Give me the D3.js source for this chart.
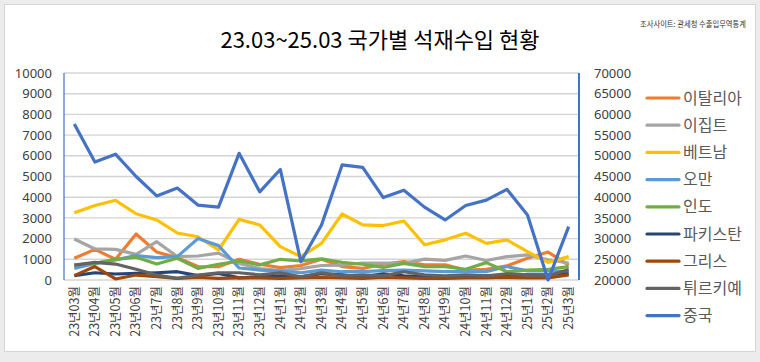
<!DOCTYPE html>
<html>
<head>
<meta charset="utf-8">
<script src="https://cdn.jsdelivr.net/npm/d3@7"></script>
<style>
  body { margin: 0; background: #fff; }
  text { font-family: "Noto Sans CJK KR", "Noto Sans", sans-serif; }
</style>
</head>
<body>
<div id="container"></div>
<script>
var categories = ["23년03월", "23년04월", "23년05월", "23년06월", "23년7월", "23년8월", "23년9월",
    "23년10월", "23년11월", "23년12월", "24년1월", "24년2월", "24년3월", "24년4월", "24년5월",
    "24년6월", "24년7월", "24년8월", "24년9월", "24년10월", "24년11월", "24년12월",
    "25년1월", "25년2월", "25년3월"];

var leftTicks = [0, 1000, 2000, 3000, 4000, 5000, 6000, 7000, 8000, 9000, 10000];
var rightTicks = [20000, 25000, 30000, 35000, 40000, 45000, 50000, 55000, 60000, 65000, 70000];

var italy    = [1050, 1480, 1000, 2220, 1350, 1080, 650, 640, 1000, 760, 600, 700, 1000, 650, 560, 760, 890, 730, 730, 480, 520, 680, 1050, 1350, 720];
var egypt    = [1980, 1500, 1480, 1240, 1850, 1130, 1160, 1300, 800, 550, 450, 550, 700, 720, 820, 820, 800, 1010, 950, 1160, 940, 1130, 1210, 980, 820];
var vietnam  = [3250, 3600, 3850, 3200, 2900, 2270, 2090, 1450, 2930, 2660, 1610, 1130, 1770, 3190, 2660, 2630, 2850, 1700, 1940, 2260, 1770, 1940, 1370, 850, 1130];
var oman     = [560, 800, 970, 1180, 1080, 1130, 2000, 1660, 580, 480, 430, 350, 480, 400, 400, 450, 480, 440, 400, 400, 400, 650, 440, 440, 400];
var india    = [720, 800, 1000, 1100, 770, 1050, 560, 760, 920, 730, 1000, 920, 1020, 850, 760, 610, 800, 650, 650, 520, 840, 400, 480, 520, 650];
var pakistan = [210, 350, 290, 320, 350, 400, 210, 320, 100, 150, 200, 150, 300, 250, 150, 300, 200, 150, 150, 150, 200, 200, 250, 250, 300];
var greece   = [210, 650, 50, 240, 160, 80, 130, 80, 100, 100, 80, 100, 120, 100, 80, 120, 100, 80, 80, 100, 100, 120, 100, 100, 250];
var turkey   = [720, 850, 770, 520, 240, 80, 240, 350, 350, 250, 350, 150, 350, 200, 250, 200, 400, 250, 200, 250, 200, 300, 250, 200, 500];
// China is plotted on the right-hand axis
var china    = [57700, 48500, 50400, 45000, 40300, 42200, 38100, 37600, 50600, 41300, 46700, 24400, 33300, 47800, 47200, 39900, 41700, 37600, 34500, 38000, 39300, 41900, 35700, 20000, 32900];

var series = [
    { name: "이탈리아", values: italy, color: "#ED7D31", axis: "left" },
    { name: "이집트", values: egypt, color: "#A5A5A5", axis: "left" },
    { name: "베트남", values: vietnam, color: "#FFC000", axis: "left" },
    { name: "오만", values: oman, color: "#5B9BD5", axis: "left" },
    { name: "인도", values: india, color: "#70AD47", axis: "left" },
    { name: "파키스탄", values: pakistan, color: "#264478", axis: "left" },
    { name: "그리스", values: greece, color: "#9E480E", axis: "left" },
    { name: "튀르키예", values: turkey, color: "#636363", axis: "left" },
    { name: "중국", values: china, color: "#4472C4", axis: "right" }
];

var width = 760, height = 362;
var plot = { left: 64, right: 579, top: 73, bottom: 280 };

var svg = d3.select("div#container")
    .append("svg")
    .attr("width", width)
    .attr("height", height);

// frame
svg.append("rect").attr("x", 0).attr("y", 0).attr("width", width).attr("height", height).attr("fill", "#ececec");
svg.append("rect").attr("x", 4.5).attr("y", 4.5).attr("width", 751).attr("height", 347)
    .attr("fill", "#fff").attr("stroke", "#d4d4d4");

var x = d3.scalePoint().domain(categories).range([plot.left, plot.right]).padding(0.5);
var yL = d3.scaleLinear().domain([0, 10000]).range([plot.bottom, plot.top]);
var yR = d3.scaleLinear().domain([20000, 70000]).range([plot.bottom, plot.top]);

// gridlines
svg.append("g")
    .selectAll("line")
    .data(leftTicks)
    .enter().append("line")
    .attr("x1", plot.left).attr("x2", plot.right)
    .attr("y1", function(d) { return yL(d); })
    .attr("y2", function(d) { return yL(d); })
    .attr("stroke", "#d4d4d4")
    .attr("stroke-width", 1.4);

// axes
var gl = svg.append("g")
    .attr("transform", "translate(" + plot.left + ",0)")
    .call(d3.axisLeft(yL).tickValues(leftTicks).tickSize(0).tickPadding(12).tickFormat(d3.format("d")));
var gr = svg.append("g")
    .attr("transform", "translate(" + plot.right + ",0)")
    .call(d3.axisRight(yR).tickValues(rightTicks).tickSize(0).tickPadding(15).tickFormat(d3.format("d")));
[gl, gr].forEach(function(g) {
    g.select(".domain").remove();
    g.selectAll("text").attr("font-size", 13).attr("fill", "#404040")
        .style("font-family", "'Noto Sans', sans-serif");
});

svg.append("line").attr("x1", plot.left).attr("x2", plot.left)
    .attr("y1", plot.top).attr("y2", plot.bottom)
    .attr("stroke", "#4472C4").attr("stroke-width", 1.2);
svg.append("line").attr("x1", plot.right).attr("x2", plot.right)
    .attr("y1", plot.top).attr("y2", plot.bottom)
    .attr("stroke", "#4472C4").attr("stroke-width", 2);

// category labels
svg.append("g")
    .selectAll("text")
    .data(categories)
    .enter().append("text")
    .attr("transform", function(d) { return "translate(" + x(d) + ",286) rotate(-90)"; })
    .attr("dy", "0.35em")
    .attr("text-anchor", "end")
    .attr("font-size", 12.5)
    .attr("fill", "#404040")
    .text(function(d) { return d; });

// lines
svg.append("defs").append("clipPath").attr("id", "clip")
    .append("rect").attr("x", plot.left).attr("y", plot.top - 5)
    .attr("width", plot.right - plot.left).attr("height", plot.bottom - plot.top + 7);

var lines = svg.append("g").attr("clip-path", "url(#clip)");
series.forEach(function(s) {
    var yy = s.axis === "left" ? yL : yR;
    var line = d3.line()
        .x(function(d, i) { return x(categories[i]); })
        .y(function(d) { return yy(d); });
    lines.append("path")
        .datum(s.values)
        .attr("fill", "none")
        .attr("stroke", s.color)
        .attr("stroke-width", 3.2)
        .attr("stroke-linejoin", "round")
        .attr("d", line);
});

// legend
var legend = svg.append("g")
    .selectAll("g")
    .data(series)
    .enter().append("g")
    .attr("transform", function(d, i) { return "translate(647," + (98 + i * 27.2) + ")"; });
legend.append("line")
    .attr("x1", 0).attr("x2", 32)
    .attr("stroke", function(d) { return d.color; })
    .attr("stroke-width", 3.2)
    .attr("stroke-linecap", "round");
legend.append("text")
    .attr("x", 36)
    .attr("dy", "0.35em")
    .attr("font-size", 16)
    .attr("fill", "#595959")
    .text(function(d) { return d.name; });

// titles
svg.append("text")
    .attr("x", 380).attr("y", 48)
    .attr("text-anchor", "middle")
    .attr("font-size", 22)
    .attr("fill", "#000")
    .text("23.03~25.03 국가별 석재수입 현황");
svg.append("text")
    .attr("x", 640).attr("y", 27)
    .attr("font-size", 8)
    .attr("textLength", 106)
    .attr("lengthAdjust", "spacingAndGlyphs")
    .attr("fill", "#333")
    .text("조사사이트: 관세청 수출입무역통계");
</script>
</body>
</html>
